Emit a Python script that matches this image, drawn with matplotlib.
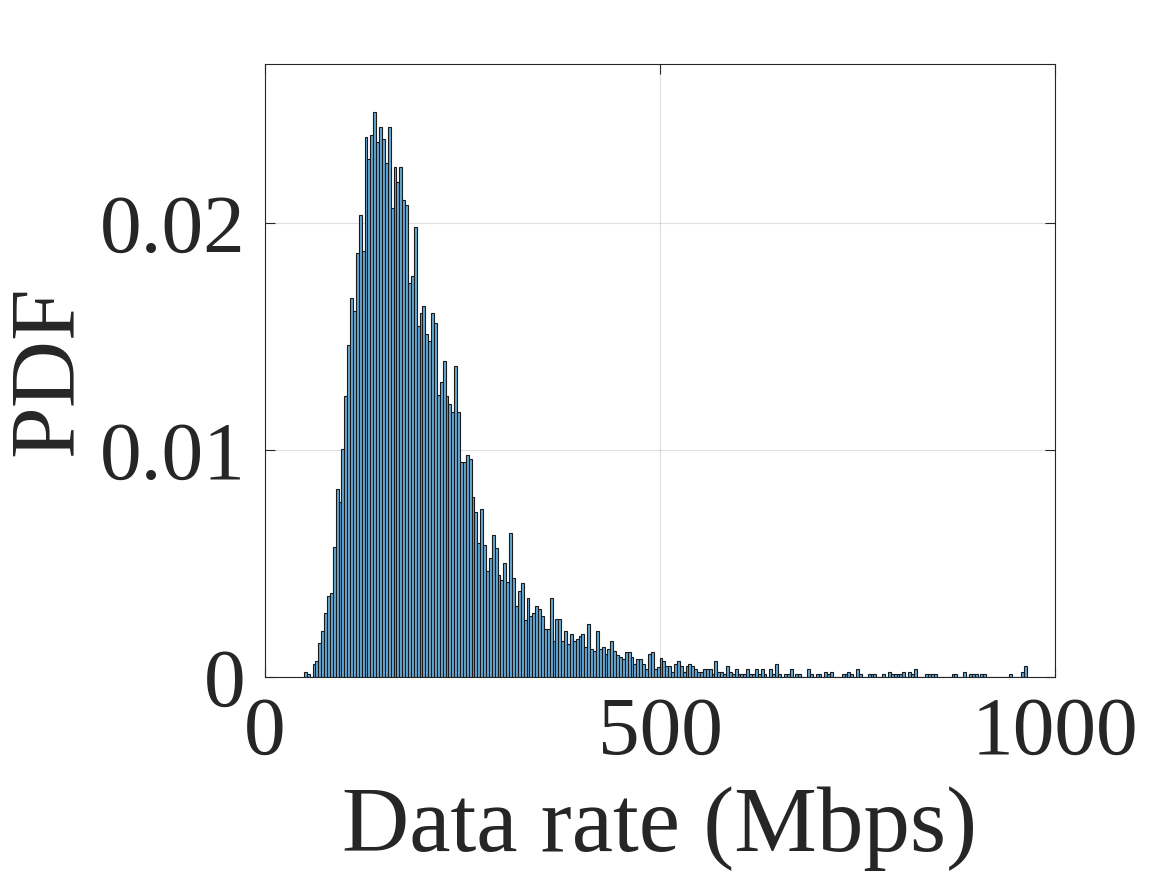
import numpy as np
import matplotlib
matplotlib.use("Agg")
import matplotlib.pyplot as plt

# ---- data (probability per bin) ----
bin_start = 49.2
bin_width = 3.66
heights = [
    0.00023, 0.00012, 0.0, 0.00059, 0.0007, 0.00148, 0.00202, 0.00282, 0.00357, 0.00371,
    0.00572, 0.00827, 0.0077, 0.01003, 0.01236, 0.01463, 0.01668, 0.01614, 0.01866, 0.02033,
    0.01878, 0.02379, 0.02282, 0.02388, 0.02489, 0.02358, 0.02423, 0.02368, 0.02265, 0.02423,
    0.02067, 0.02244, 0.02181, 0.02244, 0.02103, 0.02078, 0.01736, 0.01765, 0.0198, 0.01546,
    0.01603, 0.01634, 0.01511, 0.01479, 0.01601, 0.01557, 0.01244, 0.01301, 0.01391, 0.01236,
    0.01202, 0.01169, 0.0137, 0.01169, 0.00946, 0.00946, 0.00979, 0.00959, 0.00792, 0.00726,
    0.00591, 0.00738, 0.0058, 0.00469, 0.00526, 0.00624, 0.00568, 0.00448, 0.00425, 0.00503,
    0.00417, 0.00634, 0.00436, 0.00314, 0.00379, 0.00414, 0.00249, 0.00347, 0.00268, 0.0028,
    0.00312, 0.00299, 0.00268, 0.0021, 0.0021, 0.00346, 0.00158, 0.00255, 0.00255, 0.00158,
    0.00202, 0.00145, 0.00189, 0.00158, 0.00167, 0.0018, 0.00188, 0.00133, 0.00233, 0.00123,
    0.00114, 0.00202, 0.00123, 0.00133, 0.00101, 0.00123, 0.00158, 0.00114, 0.00097, 0.00089,
    0.00078, 0.00111, 0.00111, 0.00089, 0.00056, 0.00079, 0.00079, 0.00056, 0.00034, 0.00101,
    0.00111, 0.00034, 0.00045, 0.00082, 0.0007, 0.00047, 0.00047, 0.00023, 0.00059, 0.0007,
    0.00047, 0.00023, 0.00047, 0.00059, 0.00047, 0.00035, 0.00023, 0.00023, 0.00035, 0.00035,
    0.00035, 0.00012, 0.0007, 0.00023, 0.00023, 0.00012, 0.00047, 0.00023, 0.00012, 0.00035,
    0.00012, 0.00012, 0.00012, 0.00035, 0.00012, 0.00012, 0.00035, 0.00012, 0.00035, 0.00012,
    0.0, 0.00035, 0.00012, 0.00059, 0.00012, 0.0, 0.00012, 0.00012, 0.00035, 0.0,
    0.00012, 0.00012, 0.0, 0.0, 0.00035, 0.00012, 0.0, 0.00012, 0.00012, 0.0,
    0.00023, 0.00012, 0.00023, 0.0, 0.0, 0.0, 0.00012, 0.00012, 0.00023, 0.00012,
    0.0, 0.00035, 0.00012, 0.0, 0.0, 0.00012, 0.00012, 0.00012, 0.0, 0.0,
    0.00012, 0.0, 0.00023, 0.00012, 0.00012, 0.00012, 0.00012, 0.00023, 0.0, 0.00023,
    0.00012, 0.00035, 0.0, 0.0, 0.0, 0.00012, 0.00012, 0.00012, 0.00012, 0.0,
    0.0, 0.0, 0.0, 0.0, 0.00012, 0.00012, 0.0, 0.0, 0.00023, 0.0,
    0.00012, 0.00012, 0.00012, 0.0, 0.00012, 0.00012, 0.0, 0.0, 0.0, 0.0,
    0.0, 0.0, 0.0, 0.0, 0.00012, 0.0, 0.0, 0.0, 0.00023, 0.00047,
]
x_ticks = [0, 500, 1000]
x_tick_labels = ["0", "500", "1000"]
y_ticks = [0, 0.01, 0.02]
y_tick_labels = ["0", "0.01", "0.02"]
x_label = "Data rate (Mbps)"
y_label = "PDF"

# ---- style ----
plt.rcParams['font.family'] = ['Liberation Serif', 'DejaVu Serif']
text_col = '#262626'
face_col = (0.4, 0.668, 0.845)

fig = plt.figure(figsize=(11.67, 8.75), dpi=100)
ax = fig.add_axes([0.2271, 0.2263, 0.904 - 0.2271, 0.9269 - 0.2263])

lefts = bin_start + bin_width * np.arange(len(heights))
ax.bar(lefts, heights, width=bin_width, align='edge', color=face_col,
       edgecolor='#1a1a1a', linewidth=0.8, zorder=2)

ax.set_xlim(0, 1000)
ax.set_ylim(0, 0.027)
ax.set_xticks(x_ticks)
ax.set_xticklabels(x_tick_labels)
ax.set_yticks(y_ticks)
ax.set_yticklabels(y_tick_labels)

ax.grid(True, color='#262626', alpha=0.15, linewidth=0.8, zorder=0)
ax.set_axisbelow(True)

for sp in ax.spines.values():
    sp.set_color(text_col)
    sp.set_linewidth(0.8)

ax.tick_params(axis='both', which='major', direction='in', length=7, width=0.8,
               colors=text_col, labelsize=60, top=True, right=True)
ax.tick_params(axis='x', pad=14)
ax.tick_params(axis='y', pad=14)

ax.set_xlabel(x_label, fontsize=67, color=text_col, labelpad=10)
ax.set_ylabel(y_label, fontsize=67, color=text_col, labelpad=6)

fig.savefig("out.png", dpi=100, facecolor='white')
